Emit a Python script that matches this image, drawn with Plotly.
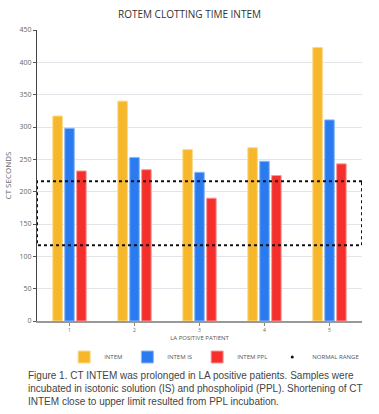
import plotly.graph_objects as go

patients = [1, 2, 3, 4, 5]
tick_labels = ["1", "2", "3", "4", "5"]
intem = [317, 340, 265, 268, 423]
intem_is = [298, 253, 230, 247, 311]
intem_ppl = [232, 234, 190, 225, 243]
normal_low = 117
normal_high = 216

fig = go.Figure()
fig.add_trace(go.Bar(x=patients, y=intem, name="INTEM", marker=dict(color="#F6B82A", line=dict(color="#FBD98A", width=1))))
fig.add_trace(go.Bar(x=patients, y=intem_is, name="INTEM IS", marker=dict(color="#2A7BF0", line=dict(color="#8DB8F7", width=1))))
fig.add_trace(go.Bar(x=patients, y=intem_ppl, name="INTEM PPL", marker=dict(color="#F42F2C", line=dict(color="#F99A98", width=1))))

lo, hi = patients[0] - 0.5, patients[-1] + 0.5
fig.add_trace(go.Scatter(
    x=[hi, lo, lo, hi, hi], y=[normal_high, normal_high, normal_low, normal_low, normal_high],
    mode="lines", name="NORMAL RANGE", showlegend=False, legendgroup="nr",
    line=dict(color="#111", width=2, dash="dot"),
))
fig.add_trace(go.Scatter(x=[None], y=[None], mode="markers", name="NORMAL RANGE", legendgroup="nr",
                         marker=dict(color="#111", size=3)))

fig.update_layout(
    width=379, height=414,
    margin=dict(l=37, r=17, t=30, b=93, autoexpand=False),
    paper_bgcolor="white", plot_bgcolor="white",
    font=dict(family="Open Sans, Liberation Sans, sans-serif", color="#555"),
    title=dict(text="ROTEM CLOTTING TIME INTEM", x=0.5, xanchor="center", xref="container",
               y=0.966, yanchor="middle", yref="container",
               font=dict(size=10, color="#333")),
    barmode="group", bargap=0.45, bargroupgap=0.2,
    showlegend=True,
    legend=dict(orientation="h", x=0.565, xanchor="center", xref="container",
                y=1 - 357 / 414, yanchor="middle", yref="container",
                font=dict(size=6, color="#555"), itemwidth=30, tracegroupgap=0,
                bgcolor="rgba(0,0,0,0)"),
    xaxis=dict(range=[lo, hi], tickmode="array", tickvals=patients, ticktext=tick_labels,
               tickfont=dict(size=5, color="#666"), ticks="outside", ticklen=3, tickcolor="#888",
               showline=True, linecolor="#999", linewidth=2, showgrid=False, automargin=False,
               title=dict(text="LA POSITIVE PATIENT", font=dict(size=6, color="#555"), standoff=4)),
    yaxis=dict(range=[0, 450], dtick=50, tickfont=dict(size=7, color="#666"),
               ticks="outside", ticklen=3, tickcolor="#555", automargin=False,
               showline=True, linecolor="#444", linewidth=1,
               gridcolor="#E3E3EA", gridwidth=1, zeroline=False,
               title=dict(text="CT SECONDS", font=dict(size=8, color="#666"), standoff=6)),
)

caption = ("Figure 1. CT INTEM was prolonged in LA positive patients. Samples were<br>"
           "incubated in isotonic solution (IS) and phospholipid (PPL). Shortening of CT<br>"
           "INTEM close to upper limit resulted from PPL incubation.")
fig.add_annotation(text=caption, xref="paper", yref="paper", x=-0.035, y=-0.16, xanchor="left", yanchor="top",
                   align="left", showarrow=False,
                   font=dict(family="Liberation Sans, Arial, sans-serif", size=10, color="#444"))

fig.write_html("out.html", config={"displayModeBar": False},
               post_script="document.body.style.margin='0';document.body.style.overflow='hidden';")
